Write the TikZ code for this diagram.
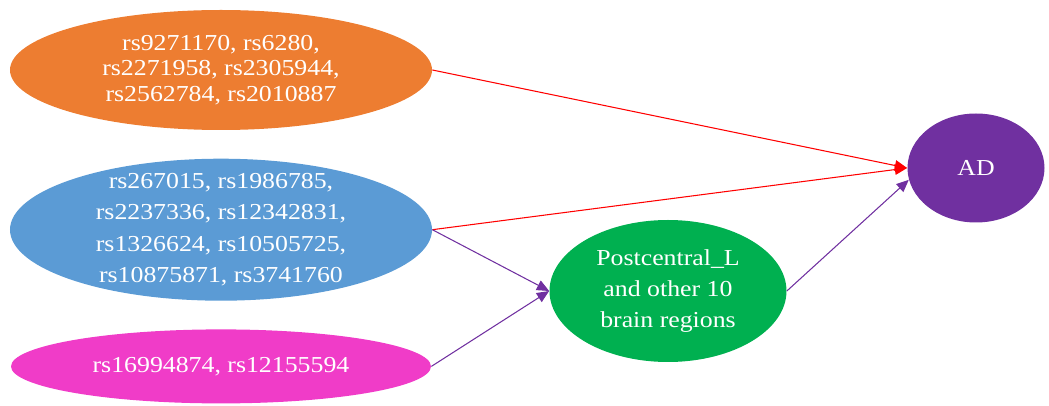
\documentclass[tikz,border=0pt]{standalone}
\usepackage{fontspec}
\setmainfont{Liberation Serif}[FakeStretch=1.13]
\usepackage{tikz}
\usetikzlibrary{shapes.geometric}
\usetikzlibrary{positioning}
\usetikzlibrary{arrows.meta}
\definecolor{snp_orange}{HTML}{ED7D31}
\definecolor{snp_blue}{HTML}{5B9BD5}
\definecolor{snp_pink}{HTML}{F03CC8}
\definecolor{region_green}{HTML}{00B050}
\definecolor{ad_purple}{HTML}{7030A0}
\definecolor{link_red}{HTML}{FF0000}
\tikzset{
snp_group/.style={ellipse, draw=none, text=white, inner sep=0pt, align=center, minimum width=8.44cm, font=\fontsize{13}{18}\selectfont},
brain_region/.style={ellipse, draw=none, fill=region_green, text=white, inner sep=0pt, align=center, minimum width=4.74cm, minimum height=2.84cm, font=\fontsize{13}{17.6}\selectfont},
outcome/.style={ellipse, draw=none, fill=ad_purple, text=white, inner sep=0pt, minimum width=2.74cm, minimum height=2.18cm, font=\fontsize{13}{15}\selectfont},
risk_link/.style={draw=link_red, line width=0.6pt, -{Triangle[length=7pt,width=6pt]}},
path_link/.style={draw=ad_purple, line width=0.6pt, -{Triangle[length=7pt,width=6pt]}}
}
\begin{document}
\begin{tikzpicture}
    \useasboundingbox (0,0) rectangle (20.98,-8.12);
    \node[snp_group, fill=snp_orange, minimum height=2.40cm, font=\fontsize{13}{14.7}\selectfont] (snps_1) at (4.42,-1.40) {rs9271170, rs6280,\\rs2271958, rs2305944,\\rs2562784, rs2010887};
    \node[snp_group, fill=snp_blue, minimum height=2.84cm, inner ysep=-7pt] (snps_2) [below=0.56cm of snps_1] {rs267015, rs1986785,\\rs2237336, rs12342831,\\rs1326624, rs10505725,\\rs10875871, rs3741760};
    \node[snp_group, fill=snp_pink, minimum width=8.40cm, minimum height=1.48cm] (snps_3) [below=0.56cm of snps_2] {rs16994874, rs12155594};
    \node[brain_region] (brain) at (13.36,-5.82) {Postcentral\_L\\and other 10\\brain regions};
    \node[outcome] (ad) at (19.52,-3.36) {AD};
    \draw[risk_link] (snps_1.east) -- (ad.west);
    \draw[risk_link] (snps_2.east) -- (ad.west);
    \draw[path_link] (snps_2.east) -- (brain.west);
    \draw[path_link] (snps_3.east) -- (brain.west);
    \draw[path_link] (brain.east) -- (ad.190);
\end{tikzpicture}
\end{document}
